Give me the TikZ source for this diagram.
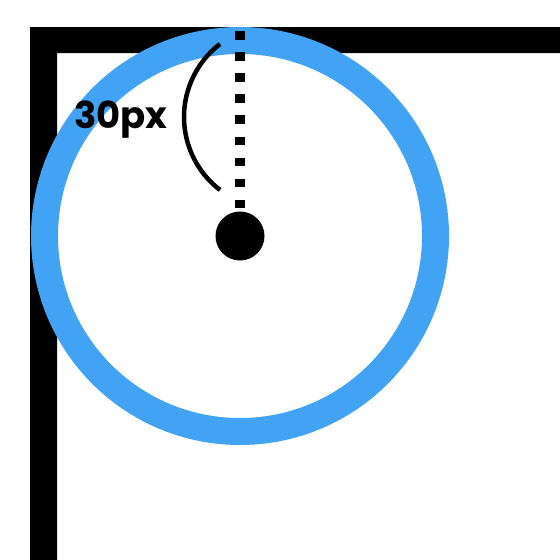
\documentclass[tikz,border=0pt]{standalone}
\usepackage{fontspec}
\setmainfont{Poppins}
\definecolor{ringblue}{RGB}{66,163,245}
\tikzset{
  ring/.style={draw=ringblue,line width=27pt},
  radius line/.style={line width=10pt,dash pattern=on 8.5pt off 12.6pt},
  angle arc/.style={line width=4.5pt},
  center dot/.style={circle,fill=black,minimum size=49pt,inner sep=0pt}
}

\begin{document}
\begin{tikzpicture}[x=1pt,y=-1pt]
      \useasboundingbox (0,0) rectangle (560,560);
      \fill[black] (30,27) -- (560,27) -- (560,53) -- (57,53) -- (57,560) -- (30,560) -- cycle;
      \draw[ring] (240,236) circle (195.5);
      \coordinate (top) at (240,31);
      \node[center dot] (c) at (240,236) {};
      \draw[radius line] (top) -- (c.north);
      \draw[angle arc] (220,44) arc[start angle=232.5,end angle=127.5,radius=92];
      \node[font=\bfseries\fontsize{37}{37}\selectfont] (lbl) at (121,120) {30px};
\end{tikzpicture}
\end{document}
